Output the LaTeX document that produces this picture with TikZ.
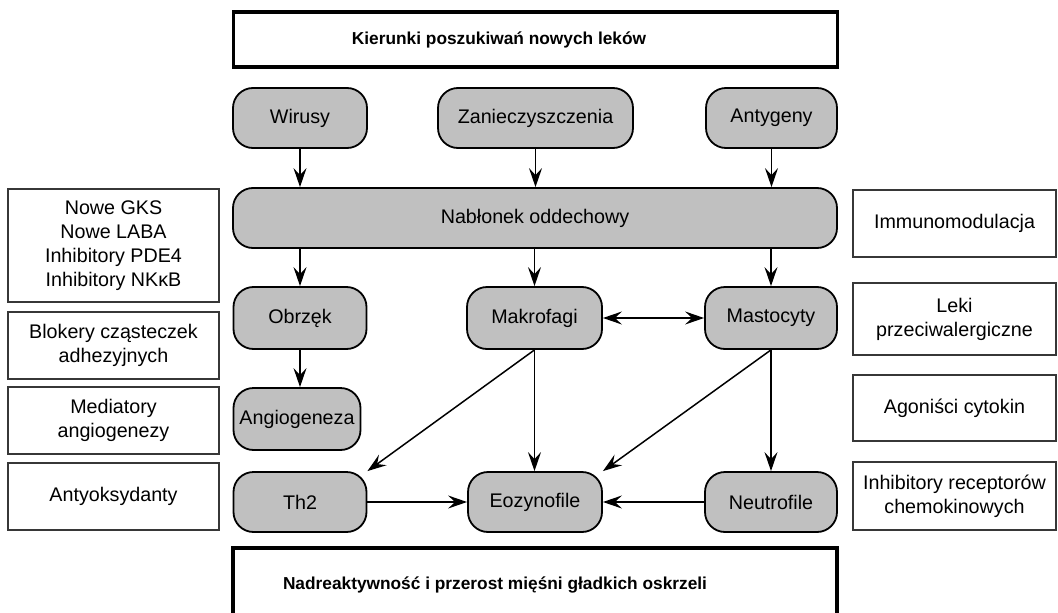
\documentclass[tikz,border=0pt]{standalone}
\usepackage{fontspec}
\setmainfont{Liberation Sans}
\usetikzlibrary{arrows.meta,calc}
\definecolor{boxgray}{RGB}{192,192,192}
\definecolor{sidegray}{RGB}{55,55,55}
\begin{document}
\begin{tikzpicture}[x=1pt,y=-1pt,
  rbox/.style={draw, line width=1.8pt, rounded corners=20pt, fill=boxgray, inner sep=0pt,
    font=\fontsize{19.7}{24}\selectfont, align=center},
  sidebox/.style={draw=sidegray, line width=1.1pt, inner sep=0pt,
    font=\fontsize{19.7}{24}\selectfont, align=center, minimum width=#1},
  sidebox/.default=211pt,
  titlebox/.style={draw, line width=3.5pt, inner sep=0pt, minimum width=604pt,
    font=\bfseries\fontsize{17.3}{20}\selectfont},
  tip/.tip={Stealth[length=19pt,width=13pt,inset=7pt]},
  arr/.style={line width=1.5pt, -tip},
  darr/.style={line width=1.5pt, tip-tip}
]
\useasboundingbox (0,0) rectangle (1058,613);
\clip (0,0) rectangle (1058,613);

% title boxes
\node[titlebox, minimum height=55pt] (top) at (535.5,39.5) {\hspace*{-73pt}Kierunki poszukiwań nowych leków};
\node[titlebox, minimum height=74pt] (bot) at (535,585) {\hspace*{-80pt}Nadreaktywność i przerost mięśni gładkich oskrzeli};

% rounded nodes
\node[rbox, minimum width=134pt, minimum height=60pt] (wir) at (300,118) {Wirusy};
\node[rbox, minimum width=195pt, minimum height=60pt] (zan) at (535.5,118) {Zanieczyszczenia};
\node[rbox, minimum width=131pt, minimum height=60pt] (ant) at (771.5,118) {Antygeny};
\node[rbox, minimum width=604pt, minimum height=60pt] (nab) at (535,218) {Nabłonek oddechowy};
\node[rbox, minimum width=133pt, minimum height=62pt] (obr) at (300,318) {Obrzęk};
\node[rbox, minimum width=135pt, minimum height=62pt] (mak) at (534.5,318) {Makrofagi};
\node[rbox, minimum width=132pt, minimum height=62pt] (mas) at (771,318) {Mastocyty};
\node[rbox, minimum width=127pt, minimum height=62pt] (ang) at (297,419) {Angiogeneza};
\node[rbox, minimum width=133pt, minimum height=60pt] (th2) at (300,502) {Th2};
\node[rbox, minimum width=134pt, minimum height=60pt] (eoz) at (535,502) {Eozynofile};
\node[rbox, minimum width=132pt, minimum height=60pt] (neu) at (771,502) {Neutrofile};

% left boxes
\node[sidebox, minimum height=113pt] (l1) at (113.5,245.5) {Nowe GKS\\Nowe LABA\\Inhibitory PDE4\\Inhibitory NKκB};
\node[sidebox, minimum height=67pt] (l2) at (113.5,345.5) {Blokery cząsteczek\\adhezyjnych};
\node[sidebox, minimum height=67pt] (l3) at (113.5,420.5) {Mediatory\\angiogenezy};
\node[sidebox, minimum height=67pt] (l4) at (113.5,496.5) {Antyoksydanty};

% right boxes
\node[sidebox=203pt, minimum height=67pt] (r1) at (954.5,223.5) {Immunomodulacja};
\node[sidebox=203pt, minimum height=72pt] (r2) at (954.5,319) {Leki\\przeciwalergiczne};
\node[sidebox=203pt, minimum height=66pt] (r3) at (954.5,408) {Agoniści cytokin};
\node[sidebox=203pt, minimum height=68pt] (r4) at (954.5,496) {Inhibitory receptorów\\chemokinowych};

% connectors
\draw[arr] (wir.south) -- (wir.south|-nab.north);
\draw[arr] (zan.south) -- (zan.south|-nab.north);
\draw[arr] (ant.south) -- (ant.south|-nab.north);
\draw[arr] (obr.north|-nab.south) -- (obr.north);
\draw[arr] (mak.north|-nab.south) -- (mak.north);
\draw[arr] (mas.north|-nab.south) -- (mas.north);
\draw[darr] (mak.east) -- (mas.west);
\draw[arr] (obr.south) -- (obr.south|-ang.north);
\draw[arr] (mak.south) -- (mak.south|-eoz.north);
\draw[arr] (mak.south) -- (th2.north east);
\draw[arr] (mas.south) -- (mas.south|-neu.north);
\draw[arr] (mas.south) -- (eoz.north east);
\draw[arr] (th2.east) -- (eoz.west);
\draw[arr] (neu.west) -- (eoz.east);
\end{tikzpicture}
\end{document}
